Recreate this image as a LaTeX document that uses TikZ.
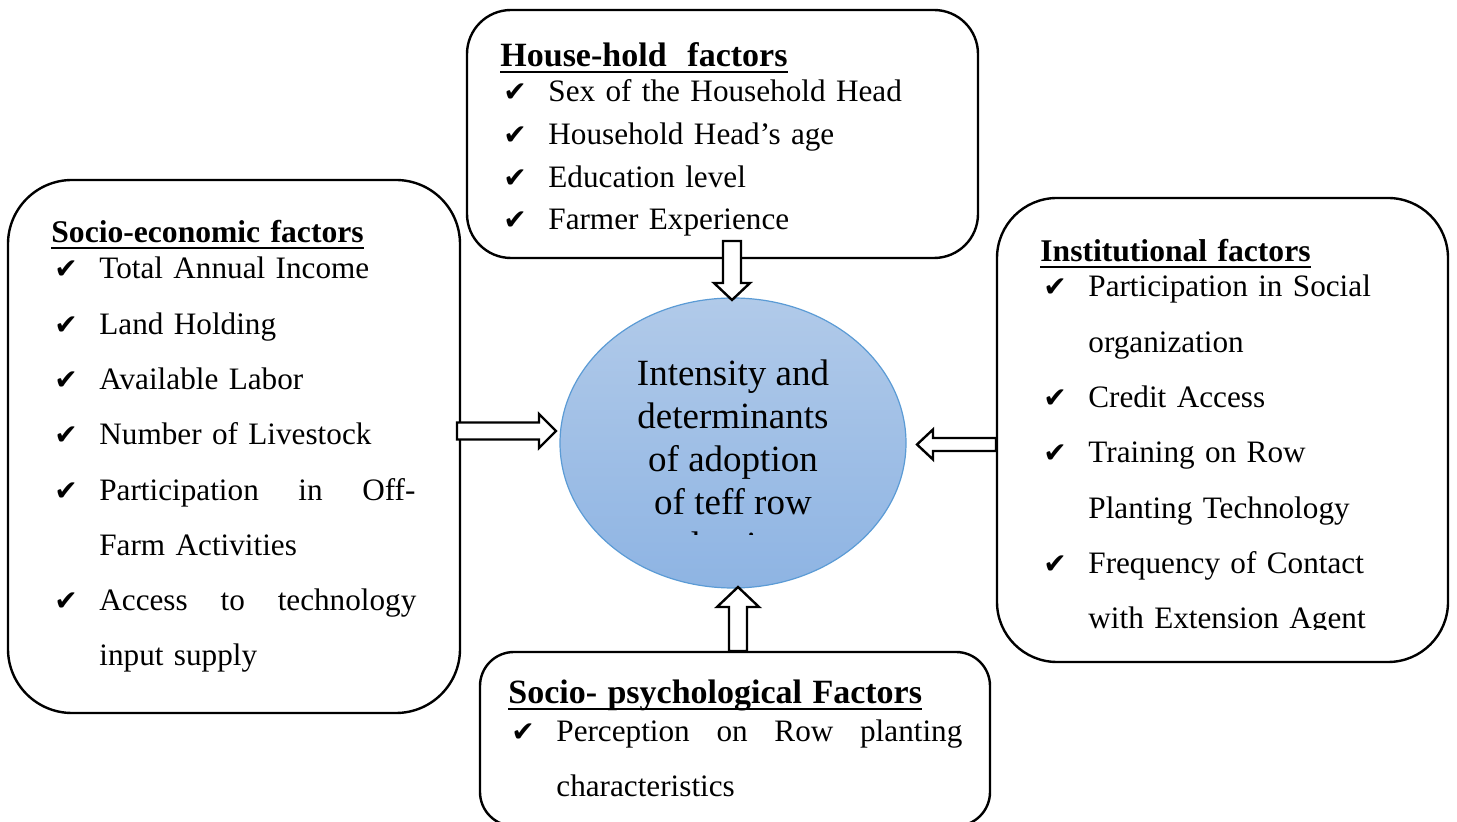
\documentclass[tikz,border=0pt]{standalone}
\usepackage{fontspec}
\setmainfont{Liberation Serif}
\newfontfamily\checkfont{DejaVu Sans}
\usepackage{tikz}
\usetikzlibrary{shapes.geometric, calc, positioning}
\definecolor{goalline}{HTML}{5B9BD5}
\definecolor{goaltop}{HTML}{B1CAE9}
\definecolor{goalbottom}{HTML}{8EB4E3}

% bold underlined heading of a factor group (#1 size, #2 text)
\newcommand{\hdr}[2][17]{\setbox0=\hbox{\bfseries\fontsize{#1}{20}\selectfont #2}\rlap{\rule[-3pt]{\wd0}{1pt}}\box0}
% tick in front of an item, and the indent of a wrapped line
\newcommand{\ck}{\makebox[24pt][l]{\hspace{1.5pt}{\checkfont\fontsize{14}{12}\selectfont ✔}}}
\newcommand{\cont}{\hspace*{24pt}}
% line spread over a fixed width
\newcommand{\spread}[2]{\hbox to #1{#2}}
% hollow block arrow: tail, tip, shaft half width, head half width, head length
\newcommand{\blockarrow}[5]{%
  \coordinate (headbase) at ($(#2)!#5!(#1)$);
  \draw[hollow] ($(#1)!#3!90:(#2)$) -- ($(headbase)!#3!90:(#2)$)
    -- ($(headbase)!#4!90:(#2)$) -- (#2)
    -- ($(headbase)!#4!-90:(#2)$) -- ($(headbase)!#3!-90:(#2)$)
    -- ($(#1)!#3!-90:(#2)$) -- cycle;}

\tikzset{
  factorbox/.style={draw, line width=1.2pt, fill=white, inner sep=0pt},
  factortext/.style={anchor=north west, inner sep=0pt, align=left},
  goalnode/.style={ellipse, draw=goalline, line width=0.6pt,
                   top color=goaltop, bottom color=goalbottom,
                   minimum width=173pt, minimum height=145pt},
  goaltext/.style={anchor=north, align=center, inner sep=0pt,
                   font=\fontsize{18.5}{21.5}\selectfont},
  hollow/.style={draw, fill=white, line width=1.2pt, line join=miter},
}

\begin{document}
\begin{tikzpicture}[x=0.5pt, y=-0.5pt]
  \useasboundingbox (0,0) rectangle (1457,822);

  % the four factor groups
  \node[factorbox, rounded corners=32pt, minimum width=226pt, minimum height=266.5pt] (socio) at (234,446.5) {};
  \node[factorbox, rounded corners=22pt, minimum width=255.5pt, minimum height=124pt] (household) at (722.5,134) {};
  \node[factorbox, rounded corners=30pt, minimum width=225.5pt, minimum height=232pt] (inst) at (1222.5,430) {};
  \node[factorbox, rounded corners=17pt, minimum width=255pt, minimum height=87pt] (psych) at (735,739) {};

  \node[factortext, text width=200pt, font=\fontsize{15.6}{27.65}\selectfont] (sociotxt) at (51,218.5)
    {\rule{0pt}{12pt}\hdr[15.8]{Socio-economic factors}\\[-9.65pt]
     \ck Total Annual Income\\
     \ck Land Holding\\
     \ck Available Labor\\
     \ck Number of Livestock\\
     \ck\spread{158pt}{Participation\hfill in\hfill Off-}\\
     \cont Farm Activities\\
     \ck\spread{158.5pt}{Access\hfill to\hfill technology}\\
     \cont input supply};

  \node[factortext, text width=230pt, font=\fontsize{15.6}{21.35}\selectfont] (householdtxt) at (500,42.5)
    {\rule{0pt}{12pt}\hdr{House-hold\ \ factors}\\[-3.85pt]
     \ck Sex of the Household Head\\
     \ck Household Head’s age\\
     \ck Education level\\
     \ck Farmer Experience};

  \begin{scope}
    \clip (997,198) rectangle (1448,630);
    \node[factortext, text width=200pt, font=\fontsize{15.6}{27.65}\selectfont] (insttxt) at (1040,237.5)
      {\rule{0pt}{12pt}\hdr[15.8]{Institutional factors}\\[-10.15pt]
       \ck Participation in Social\\
       \cont organization\\
       \ck Credit Access\\
       \ck Training on Row\\
       \cont Planting Technology\\
       \ck Frequency of Contact\\
       \cont with Extension Agent};
  \end{scope}

  \node[factortext, text width=235pt, font=\fontsize{15.6}{27.5}\selectfont] (psychtxt) at (508,679.5)
    {\rule{0pt}{12pt}\hdr{Socio- psychological Factors}\\[-8.5pt]
     \ck\spread{203pt}{Perception\hfill on\hfill Row\hfill planting}\\
     \cont characteristics};

  % outcome in the middle
  \node[goalnode] (goal) at (733,443) {};
  \begin{scope}
    \clip (560,298) rectangle (906,535);
    \node[goaltext] (goaltxt) at (733,357)
      {\rule{0pt}{14pt}Intensity and\\determinants\\of adoption\\of teff row\\planting};
  \end{scope}

  % arrows into the outcome
  \coordinate (socioTail) at (457,431);
  \coordinate (socioTip) at (556,431);
  \coordinate (householdTail) at (732,241);
  \coordinate (householdTip) at (732,300);
  \coordinate (instTail) at (996,444.5);
  \coordinate (instTip) at (917,444.5);
  \coordinate (psychTail) at (738,651);
  \coordinate (psychTip) at (738,587);

  \blockarrow{socioTail}{socioTip}{4.25pt}{8.5pt}{8.5pt}
  \blockarrow{householdTail}{householdTip}{4.5pt}{9pt}{8.5pt}
  \blockarrow{instTail}{instTip}{3.25pt}{7.5pt}{8pt}
  \blockarrow{psychTail}{psychTip}{4.5pt}{10.5pt}{10pt}
\end{tikzpicture}
\end{document}
